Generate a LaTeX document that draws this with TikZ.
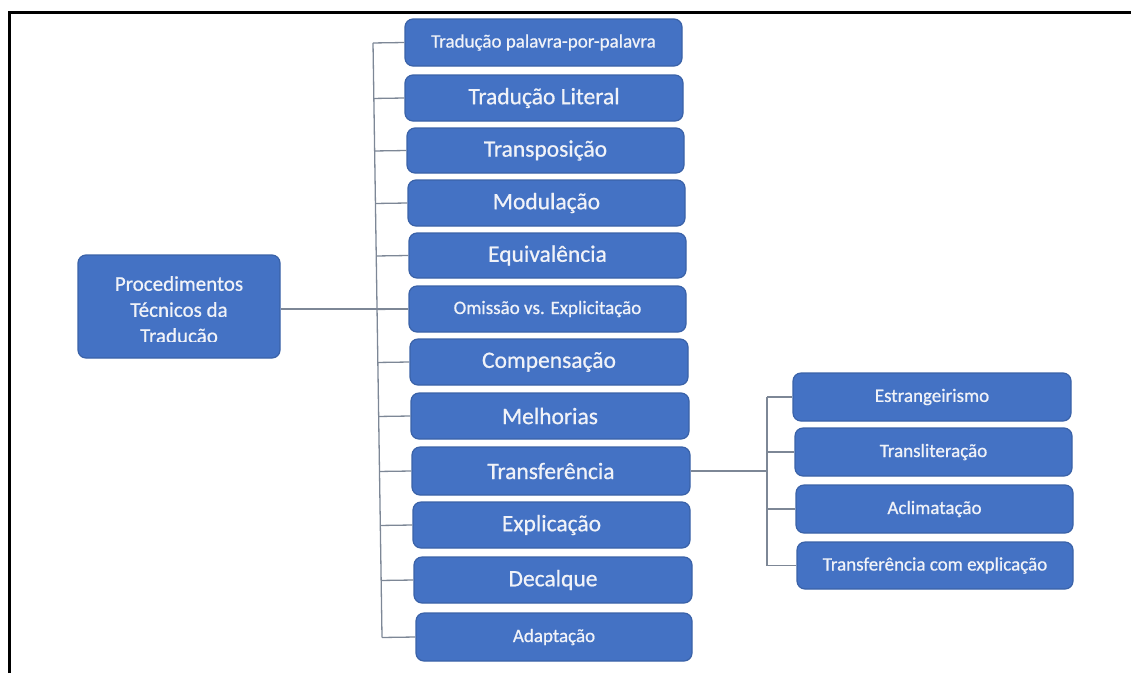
\documentclass[tikz,border=0pt]{standalone}
\usepackage{fontspec}
\setmainfont{Carlito}
\newfontfamily\boxfont{Carlito}[FakeBold=0.7]
\usetikzlibrary{calc}
\definecolor{boxblue}{HTML}{4472C4}
\definecolor{boxedge}{HTML}{3A62A8}
\definecolor{linkgrey}{RGB}{125,135,150}
\definecolor{boxtext}{RGB}{240,242,248}
\tikzset{
  item/.style={draw=boxedge, line width=1.2pt, fill=boxblue, rounded corners=8pt,
    text=boxtext, font=\boxfont\fontsize{23.5}{25}\selectfont, inner sep=0pt, align=center},
  small/.style={font=\boxfont\fontsize{19}{21}\selectfont},
  link/.style={draw=linkgrey, line width=1.3pt},
}
\begin{document}
\begin{tikzpicture}[x=1pt,y=-1pt]
\useasboundingbox (0,0) rectangle (1131,673);
% frame (left and top edges only visible)
\draw[line width=3pt, black] (9,673) -- (9,12) -- (1131,12);

% root
\node[item, minimum width=202pt, minimum height=103pt] (root) at (179,306.5) {};
\begin{scope}
\clip (78,255) rectangle (280,341);
\node[text=boxtext, font=\boxfont\fontsize{21}{26}\selectfont, align=center, inner sep=0pt, anchor=north] (roottxt) at (179,276) {Procedimentos\\Técnicos da\\Tradução};
\end{scope}

% main column
\node[item, small, minimum width=277pt, minimum height=47pt] (n1) at (543.5,42.5) {Tradução palavra-por-palavra};
\node[item, minimum width=278pt, minimum height=46pt] (n2) at (544,98) {Tradução Literal};
\node[item, minimum width=277pt, minimum height=45pt] (n3) at (545.5,150.5) {Transposição};
\node[item, minimum width=277pt, minimum height=46pt] (n4) at (546.5,203) {Modulação};
\node[item, minimum width=277pt, minimum height=45pt] (n5) at (547.5,255.5) {Equivalência};
\node[item, small, minimum width=277pt, minimum height=46pt] (n6) at (547.5,309) {Omissão vs. Explicitação};
\node[item, minimum width=278pt, minimum height=46pt] (n7) at (549,362) {Compensação};
\node[item, minimum width=278pt, minimum height=46pt] (n8) at (550,416) {Melhorias};
\node[item, minimum width=278pt, minimum height=48pt] (n9) at (551,471) {Transferência};
\node[item, minimum width=277pt, minimum height=46pt] (n10) at (551.5,525) {Explicação};
\node[item, minimum width=278pt, minimum height=46pt] (n11) at (553,580) {Decalque};
\node[item, small, minimum width=276pt, minimum height=48pt] (n12) at (554,637) {Adaptação};

% sub column
\node[item, small, minimum width=278pt, minimum height=48pt] (s1) at (932,397) {Estrangeirismo};
\node[item, small, minimum width=277pt, minimum height=48pt] (s2) at (933.5,452) {Transliteração};
\node[item, small, minimum width=277pt, minimum height=48pt] (s3) at (934.5,509) {Aclimatação};
\node[item, small, minimum width=276pt, minimum height=47pt] (s4) at (935,565.5) {Transferência com explicação};

% trunks
\coordinate (tA) at (373,42.5);
\coordinate (tB) at (382,637);
\coordinate (uA) at (767,397);
\coordinate (uB) at (767,565.5);

\draw[link] ($(tA)!(n1.west)!(tB)$) -- ($(tA)!(n12.west)!(tB)$);
\foreach \n in {n1,n2,n3,n4,n5,n6,n7,n8,n9,n10,n11,n12}
  \draw[link] ($(tA)!(\n.west)!(tB)$) -- (\n.west);
\draw[link] (root.east |- n6.west) -- (n6.west);
\draw[link] (uA) -- (uB);
\foreach \n in {s1,s2,s3,s4}
  \draw[link] ($(uA)!(\n.west)!(uB)$) -- (\n.west);
\draw[link] (n9.east) -- ($(uA)!(n9.east)!(uB)$);
\end{tikzpicture}
\end{document}
